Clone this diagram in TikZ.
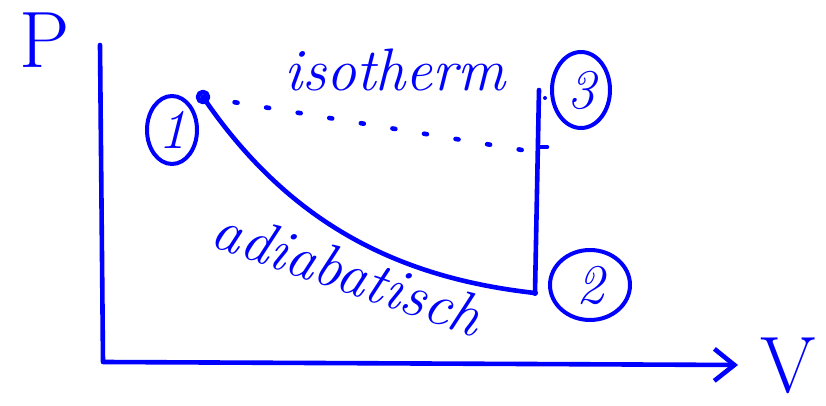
\documentclass[tikz,border=0pt]{standalone}
\usepackage{tikz}
\usetikzlibrary{shapes.geometric, arrows.meta, positioning}

\begin{document}
\begin{tikzpicture}[
        x=0.5pt, y=-0.5pt,
        pen/.style={draw=blue, line width=2.3pt, line cap=round, line join=round},
        statenum/.style={
            ellipse,
            draw=blue,
            line width=2pt,
            inner sep=0pt,
            text=blue,
            font=\fontsize{28}{28}\selectfont\itshape
        },
        handtext/.style={
            text=blue,
            inner sep=0pt,
            font=\fontsize{30}{30}\selectfont\itshape
        },
        axislabel/.style={
            text=blue,
            inner sep=0pt,
            font=\fontsize{40}{40}\selectfont
        },
        isoline/.style={draw=blue, line width=2.3pt, line cap=round,
            dash pattern=on 1.5pt off 14.5pt}
    ]
    \useasboundingbox (0,0) rectangle (826,406);

    % axes
    \coordinate (ytop) at (100,45);
    \coordinate (orig) at (103,362);
    \coordinate (xend) at (738,365);
    \draw [pen, -{Straight Barb[length=10pt, width=16pt, line width=2.3pt]}] (ytop) -- (orig) -- (xend);
    \node (plabel) [axislabel] at (45,40) {P};
    \node (vlabel) [axislabel] at (788,366) {V};

    % states
    \coordinate (p1) at (203,97);
    \coordinate (p2) at (535,293);
    \coordinate (p3) at (539,90);
    \coordinate (isoend) at (522,150);
    \draw [pen] (p1) circle (5);
    \fill [blue] (p2) circle (3);
    \fill [blue] (545,98) circle (2);

    \node (one) [statenum, minimum width=25pt, minimum height=34pt] at (172,130) {1};
    \node (two) [statenum, minimum width=40pt, minimum height=35pt] at (590,285) {2};
    \node (three) [statenum, minimum width=29pt, minimum height=38pt] at (581,90) {3};

    % adiabat, isochore, isotherm
    \draw [pen] (p1) .. controls (290,225) and (400,278) .. (p2);
    \draw [pen] (p2) -- (p3);
    \draw [pen] (540,147) -- (547,147);
    \draw [isoline] (p1) -- (isoend);

    \node (isolabel) [handtext] at (395,70) {isotherm};
    \node (adialabel) [handtext, rotate=-19] at (348,272) {adiabatisch};

\end{tikzpicture}
\end{document}
